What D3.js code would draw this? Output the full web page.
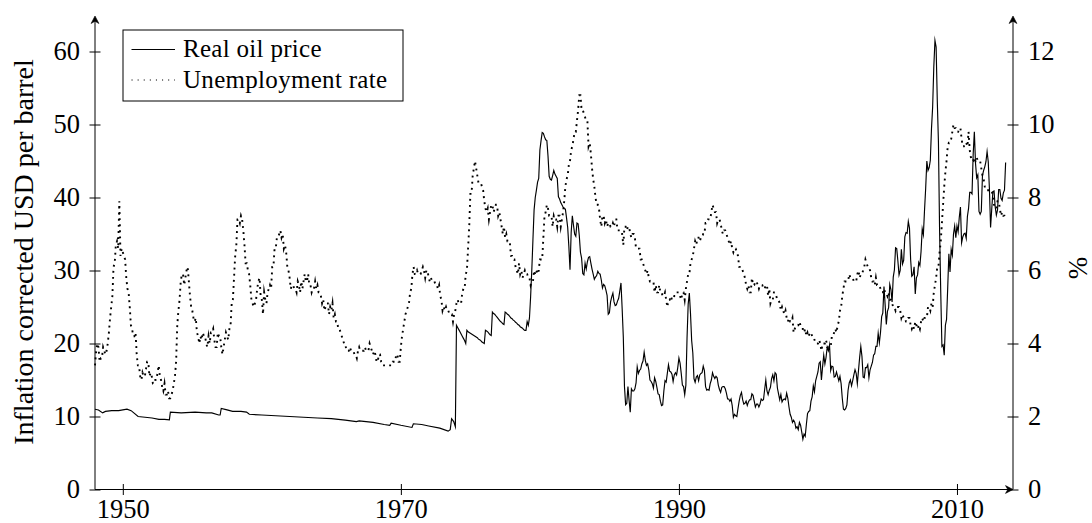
<!DOCTYPE html>
<html>
<head>
<meta charset="utf-8">
<script src="https://cdn.jsdelivr.net/npm/d3@7"></script>
<style>
  html, body { margin: 0; padding: 0; background: #fff; }
  svg { display: block; font-family: "Liberation Serif", "Times New Roman", serif; }
</style>
</head>
<body>
<svg id="chart" width="1092" height="523"></svg>
<script>
// ---- Data -----------------------------------------------------------------
const yearTicks = [1950, 1970, 1990, 2010];
const priceTicks = [0, 10, 20, 30, 40, 50, 60];
const rateTicks = [0, 2, 4, 6, 8, 10, 12];
const seriesNames = ["Real oil price", "Unemployment rate"];
const leftTitle = "Inflation corrected USD per barrel";
const rightTitle = "%";

// Real oil price before 1974 (posted-price era): [year, USD per barrel]
const oilEarly = [
  [1948.00, 11.0], [1948.25, 10.9], [1948.55, 10.5], [1948.75, 10.7], [1949.20, 10.8],
  [1949.70, 10.8], [1950.10, 10.95], [1950.30, 11.0], [1950.60, 10.8], [1951.10, 10.0],
  [1951.60, 9.9], [1952.10, 9.8], [1952.60, 9.6], [1953.00, 9.6], [1953.35, 9.55],
  [1953.42, 10.6], [1954.20, 10.5], [1955.20, 10.6], [1956.00, 10.5], [1956.40, 10.5],
  [1956.90, 10.2], [1957.00, 10.2], [1957.08, 11.1], [1957.50, 10.9], [1957.90, 10.7],
  [1958.50, 10.7], [1958.90, 10.6], [1959.10, 10.3], [1960.00, 10.2], [1961.00, 10.1],
  [1962.00, 10.0], [1963.00, 9.9], [1964.00, 9.8], [1965.00, 9.7], [1966.00, 9.5],
  [1966.80, 9.3], [1967.00, 9.4], [1968.00, 9.2], [1968.80, 8.9], [1969.20, 8.8],
  [1969.30, 9.1], [1970.00, 8.8], [1970.80, 8.5], [1970.90, 9.0], [1971.50, 8.9],
  [1972.00, 8.7], [1972.80, 8.4], [1973.40, 8.0], [1973.55, 8.2], [1973.65, 9.7],
  [1973.80, 9.3], [1973.92, 8.6]
];

// Real oil price, monthly from January 1974 (USD per barrel)
const oilMonthlyStart = 1974;
const oilMonthly = [
  22.5, 22.2, 21.9, 21.6, 21.3, 21.0, 20.7, 20.4, 20.0, 21.8, 21.6, 21.5,   // 1974
  21.4, 21.3, 21.2, 21.1, 21.0, 20.9, 20.8, 20.6, 20.5, 20.4, 20.2, 20.1,   // 1975
  20.0, 21.8, 21.7, 21.6, 21.4, 21.2, 21.1, 24.3, 24.1, 24.0, 23.8, 23.6,   // 1976
  23.4, 23.2, 23.0, 22.9, 22.7, 22.6, 24.3, 24.2, 24.0, 23.9, 23.7, 23.5,   // 1977
  23.4, 23.2, 23.1, 22.9, 22.8, 22.6, 22.5, 22.3, 22.2, 22.1, 21.9, 21.8,   // 1978
  21.8, 23.0, 22.5, 23.5, 26.4, 30.0, 34.2, 38.3, 40.0, 41.0, 42.1, 42.6,   // 1979
  46.5, 47.8, 48.9, 48.8, 48.3, 47.9, 47.8, 45.7, 42.9, 42.5, 42.4, 43.0,   // 1980
  43.7, 43.2, 42.9, 42.6, 40.1, 39.8, 39.3, 39.0, 38.7, 38.5, 38.4, 37.2,   // 1981
  35.9, 33.3, 30.1, 35.2, 37.5, 36.2, 35.0, 34.7, 36.5, 36.4, 34.8, 32.5,   // 1982
  31.7, 29.6, 29.4, 31.0, 30.2, 31.2, 31.8, 31.9, 31.0, 30.2, 29.5, 28.8,   // 1983
  29.1, 29.3, 29.9, 29.6, 29.5, 28.7, 27.6, 28.1, 27.9, 27.3, 26.6, 24.0,   // 1984
  24.2, 25.7, 26.4, 26.9, 25.7, 25.2, 25.3, 25.8, 26.2, 27.2, 28.3, 24.8,   // 1985
  20.9, 14.1, 11.6, 11.8, 14.1, 12.2, 10.6, 13.8, 13.5, 13.5, 13.8, 14.6,   // 1986
  16.8, 15.9, 16.3, 16.5, 17.2, 17.6, 18.8, 17.7, 17.0, 17.2, 16.4, 15.0,   // 1987
  14.8, 14.5, 13.9, 15.3, 14.8, 14.0, 13.1, 13.0, 12.1, 11.5, 11.6, 13.5,   // 1988
  14.9, 14.7, 15.9, 17.1, 16.2, 16.1, 15.8, 14.8, 15.7, 16.0, 15.7, 16.7,   // 1989
  18.0, 17.3, 15.9, 14.3, 14.1, 13.0, 14.3, 20.7, 25.4, 26.9, 24.1, 20.4,   // 1990
  18.7, 15.2, 14.7, 15.4, 15.6, 14.9, 15.7, 15.9, 16.0, 16.9, 16.3, 14.1,   // 1991
  13.6, 13.7, 13.6, 14.5, 15.0, 16.0, 15.5, 15.2, 15.5, 15.3, 14.3, 13.7,   // 1992
  13.3, 14.0, 14.1, 14.1, 13.8, 13.2, 12.4, 12.4, 12.1, 12.4, 11.5, 9.9,    // 1993
  10.3, 10.1, 10.0, 11.1, 12.1, 12.9, 13.3, 12.3, 11.7, 11.8, 12.1, 11.5,   // 1994
  12.0, 12.3, 12.3, 13.1, 12.9, 12.1, 11.3, 11.7, 11.7, 11.3, 11.7, 12.4,   // 1995
  12.2, 12.3, 13.7, 15.0, 13.5, 13.0, 13.6, 14.0, 15.2, 15.7, 14.9, 16.0,   // 1996
  15.8, 13.9, 13.1, 12.3, 13.0, 12.0, 12.3, 12.4, 12.3, 13.2, 12.5, 11.3,   // 1997
  10.3, 9.9, 9.2, 9.5, 9.2, 8.4, 8.6, 8.2, 9.2, 8.8, 7.9, 6.9,              // 1998
  7.6, 7.3, 8.9, 10.4, 10.7, 10.8, 12.1, 12.7, 14.2, 13.4, 14.9, 15.5,      // 1999
  16.1, 17.3, 17.5, 15.0, 16.8, 18.4, 17.2, 18.1, 19.5, 19.0, 19.8, 16.3,   // 2000
  16.9, 16.8, 15.4, 15.5, 16.1, 15.5, 14.9, 15.5, 14.5, 12.5, 11.0, 10.9,   // 2001
  11.1, 11.6, 13.6, 14.6, 15.0, 14.2, 14.9, 15.7, 16.4, 15.9, 14.5, 16.3,   // 2002
  18.1, 19.6, 18.2, 15.4, 15.3, 16.7, 16.7, 17.1, 15.3, 16.4, 16.9, 17.4,   // 2003
  18.4, 18.6, 19.6, 19.6, 21.4, 20.1, 21.5, 23.7, 24.2, 27.8, 25.3, 22.6,   // 2004
  24.4, 24.9, 28.1, 27.4, 25.7, 29.1, 30.1, 33.1, 33.0, 31.3, 29.4, 30.0,   // 2005
  32.9, 30.9, 31.4, 34.6, 35.2, 35.1, 36.7, 35.8, 31.5, 29.2, 29.4, 30.5,   // 2006
  26.8, 29.0, 29.4, 31.1, 30.7, 32.6, 35.7, 34.9, 38.3, 41.3, 45.0, 43.7,   // 2007
  44.1, 45.1, 49.4, 52.4, 57.9, 61.5, 60.6, 53.3, 47.6, 35.4, 27.0, 19.6,   // 2008
  19.8, 18.4, 22.5, 23.3, 27.6, 32.3, 29.8, 32.9, 32.1, 35.0, 36.1, 34.5,   // 2009
  36.1, 35.3, 37.3, 38.7, 33.8, 34.6, 35.0, 35.1, 34.4, 37.4, 38.5, 40.7,   // 2010
  40.7, 40.5, 46.0, 49.0, 44.7, 42.7, 43.1, 38.1, 37.7, 38.1, 43.0, 43.7,   // 2011
  44.2, 44.9, 46.3, 44.9, 41.2, 35.9, 38.4, 40.8, 40.9, 38.7, 37.6, 38.3,   // 2012
  41.1, 41.1, 39.9, 39.6, 40.6, 41.0, 44.8                                  // 2013
];

// Unemployment rate (%), monthly from January 1948
const unempStart = 1948;
const unemployment = [
  3.4, 3.8, 4.0, 3.9, 3.5, 3.6, 3.6, 3.9, 3.8, 3.7, 3.8, 4.0,   // 1948
  4.3, 4.7, 5.0, 5.3, 6.1, 6.2, 6.7, 6.8, 6.6, 7.9, 6.4, 6.6,   // 1949
  6.5, 6.4, 6.3, 5.8, 5.5, 5.4, 5.0, 4.5, 4.4, 4.2, 4.2, 4.3,   // 1950
  3.7, 3.4, 3.4, 3.1, 3.0, 3.2, 3.1, 3.1, 3.3, 3.5, 3.5, 3.1,   // 1951
  3.2, 3.1, 2.9, 2.9, 3.0, 3.0, 3.2, 3.4, 3.1, 3.0, 2.8, 2.7,   // 1952
  2.9, 2.6, 2.6, 2.7, 2.5, 2.5, 2.6, 2.7, 2.9, 3.1, 3.5, 4.5,   // 1953
  4.9, 5.2, 5.7, 5.9, 5.9, 5.6, 5.8, 6.0, 6.1, 5.7, 5.3, 5.0,   // 1954
  4.9, 4.7, 4.6, 4.7, 4.3, 4.2, 4.0, 4.2, 4.1, 4.3, 4.2, 4.2,   // 1955
  4.0, 3.9, 4.2, 4.0, 4.3, 4.3, 4.4, 4.1, 3.9, 3.9, 4.3, 4.2,   // 1956
  4.2, 3.9, 3.7, 3.9, 4.1, 4.3, 4.2, 4.1, 4.4, 4.5, 5.1, 5.2,   // 1957
  5.8, 6.4, 6.7, 7.4, 7.4, 7.3, 7.5, 7.4, 7.1, 6.7, 6.2, 6.2,   // 1958
  6.0, 5.9, 5.6, 5.2, 5.1, 5.0, 5.1, 5.2, 5.5, 5.7, 5.8, 5.3,   // 1959
  5.2, 4.8, 5.4, 5.2, 5.1, 5.4, 5.5, 5.6, 5.5, 6.1, 6.1, 6.6,   // 1960
  6.6, 6.9, 6.9, 7.0, 7.1, 6.9, 7.0, 6.6, 6.7, 6.5, 6.1, 6.0,   // 1961
  5.8, 5.5, 5.6, 5.6, 5.5, 5.5, 5.4, 5.7, 5.6, 5.4, 5.7, 5.5,   // 1962
  5.7, 5.9, 5.7, 5.7, 5.9, 5.6, 5.6, 5.4, 5.5, 5.5, 5.7, 5.5,   // 1963
  5.6, 5.4, 5.4, 5.3, 5.1, 5.2, 4.9, 5.0, 5.1, 5.1, 4.8, 5.0,   // 1964
  4.9, 5.1, 4.7, 4.8, 4.6, 4.6, 4.4, 4.4, 4.3, 4.2, 4.1, 4.0,   // 1965
  4.0, 3.8, 3.8, 3.8, 3.9, 3.8, 3.8, 3.8, 3.7, 3.7, 3.6, 3.8,   // 1966
  3.9, 3.8, 3.8, 3.8, 3.8, 3.9, 3.8, 3.8, 3.8, 4.0, 3.9, 3.8,   // 1967
  3.7, 3.8, 3.7, 3.5, 3.5, 3.7, 3.7, 3.5, 3.4, 3.4, 3.4, 3.4,   // 1968
  3.4, 3.4, 3.4, 3.4, 3.4, 3.5, 3.5, 3.5, 3.7, 3.7, 3.5, 3.5,   // 1969
  3.9, 4.2, 4.4, 4.6, 4.8, 4.9, 5.0, 5.1, 5.4, 5.5, 5.9, 6.1,   // 1970
  5.9, 5.9, 6.0, 5.9, 5.9, 5.9, 6.0, 6.1, 6.0, 5.8, 6.0, 6.0,   // 1971
  5.8, 5.7, 5.8, 5.7, 5.7, 5.7, 5.6, 5.6, 5.5, 5.6, 5.3, 5.2,   // 1972
  4.9, 5.0, 4.9, 5.0, 4.9, 4.9, 4.8, 4.8, 4.8, 4.6, 4.8, 4.9,   // 1973
  5.1, 5.2, 5.1, 5.1, 5.1, 5.4, 5.5, 5.5, 5.9, 6.0, 6.6, 7.2,   // 1974
  8.1, 8.1, 8.6, 8.8, 9.0, 8.8, 8.6, 8.4, 8.4, 8.4, 8.3, 8.2,   // 1975
  7.9, 7.7, 7.6, 7.7, 7.4, 7.6, 7.8, 7.8, 7.6, 7.7, 7.8, 7.8,   // 1976
  7.5, 7.6, 7.4, 7.2, 7.0, 7.2, 6.9, 7.0, 6.8, 6.8, 6.8, 6.4,   // 1977
  6.4, 6.3, 6.3, 6.1, 6.0, 5.9, 6.2, 5.9, 6.0, 5.8, 5.9, 6.0,   // 1978
  5.9, 5.9, 5.8, 5.8, 5.6, 5.7, 5.7, 6.0, 5.9, 6.0, 5.9, 6.0,   // 1979
  6.3, 6.3, 6.3, 6.9, 7.5, 7.6, 7.8, 7.7, 7.5, 7.5, 7.5, 7.2,   // 1980
  7.5, 7.4, 7.4, 7.2, 7.5, 7.5, 7.2, 7.4, 7.6, 7.9, 8.3, 8.5,   // 1981
  8.6, 8.9, 9.0, 9.3, 9.4, 9.6, 9.8, 9.8, 10.1, 10.4, 10.8, 10.8, // 1982
  10.4, 10.4, 10.3, 10.2, 10.1, 10.1, 9.4, 9.5, 9.2, 8.8, 8.5, 8.3, // 1983
  8.0, 7.8, 7.8, 7.7, 7.4, 7.2, 7.5, 7.5, 7.3, 7.4, 7.2, 7.3,   // 1984
  7.3, 7.2, 7.2, 7.3, 7.2, 7.4, 7.4, 7.1, 7.1, 7.1, 7.0, 7.0,   // 1985
  6.7, 7.2, 7.2, 7.1, 7.2, 7.2, 7.0, 6.9, 7.0, 7.0, 6.9, 6.6,   // 1986
  6.6, 6.6, 6.6, 6.3, 6.3, 6.2, 6.1, 6.0, 5.9, 6.0, 5.8, 5.7,   // 1987
  5.7, 5.7, 5.7, 5.4, 5.6, 5.4, 5.4, 5.6, 5.4, 5.4, 5.3, 5.3,   // 1988
  5.4, 5.2, 5.0, 5.2, 5.2, 5.3, 5.2, 5.2, 5.3, 5.3, 5.4, 5.4,   // 1989
  5.4, 5.3, 5.2, 5.4, 5.4, 5.2, 5.5, 5.7, 5.9, 5.9, 6.2, 6.3,   // 1990
  6.4, 6.6, 6.8, 6.7, 6.9, 6.9, 6.8, 6.9, 6.9, 7.0, 7.0, 7.3,   // 1991
  7.3, 7.4, 7.4, 7.4, 7.6, 7.8, 7.7, 7.6, 7.6, 7.3, 7.4, 7.4,   // 1992
  7.3, 7.1, 7.0, 7.1, 7.1, 7.0, 6.9, 6.8, 6.7, 6.8, 6.6, 6.5,   // 1993
  6.6, 6.6, 6.5, 6.4, 6.1, 6.1, 6.1, 6.0, 5.9, 5.8, 5.6, 5.5,   // 1994
  5.6, 5.4, 5.4, 5.8, 5.6, 5.6, 5.7, 5.7, 5.6, 5.5, 5.6, 5.6,   // 1995
  5.6, 5.5, 5.5, 5.6, 5.6, 5.3, 5.5, 5.1, 5.2, 5.2, 5.4, 5.4,   // 1996
  5.3, 5.2, 5.2, 5.1, 4.9, 5.0, 4.9, 4.8, 4.9, 4.7, 4.6, 4.7,   // 1997
  4.6, 4.6, 4.7, 4.3, 4.4, 4.5, 4.5, 4.5, 4.6, 4.5, 4.4, 4.4,   // 1998
  4.3, 4.4, 4.2, 4.3, 4.2, 4.3, 4.3, 4.2, 4.2, 4.1, 4.1, 4.0,   // 1999
  4.0, 4.1, 4.0, 3.8, 4.0, 4.0, 4.0, 4.1, 3.9, 3.9, 3.9, 3.9,   // 2000
  4.2, 4.2, 4.3, 4.4, 4.3, 4.5, 4.6, 4.9, 5.0, 5.3, 5.5, 5.7,   // 2001
  5.7, 5.7, 5.7, 5.9, 5.8, 5.8, 5.8, 5.7, 5.7, 5.7, 5.9, 6.0,   // 2002
  5.8, 5.9, 5.9, 6.0, 6.1, 6.3, 6.2, 6.1, 6.1, 6.0, 5.8, 5.7,   // 2003
  5.7, 5.6, 5.8, 5.6, 5.6, 5.6, 5.5, 5.4, 5.4, 5.5, 5.4, 5.4,   // 2004
  5.3, 5.4, 5.2, 5.2, 5.1, 5.0, 5.0, 4.9, 5.0, 5.0, 5.0, 4.9,   // 2005
  4.7, 4.8, 4.7, 4.7, 4.6, 4.6, 4.7, 4.7, 4.5, 4.4, 4.5, 4.4,   // 2006
  4.6, 4.5, 4.4, 4.5, 4.4, 4.6, 4.7, 4.6, 4.7, 4.7, 4.7, 5.0,   // 2007
  5.0, 4.9, 5.1, 5.0, 5.4, 5.6, 5.8, 6.1, 6.1, 6.5, 6.8, 7.3,   // 2008
  7.8, 8.3, 8.7, 9.0, 9.4, 9.5, 9.5, 9.6, 9.8, 10.0, 9.9, 9.9,  // 2009
  9.8, 9.8, 9.9, 9.9, 9.6, 9.4, 9.4, 9.5, 9.5, 9.4, 9.8, 9.3,   // 2010
  9.1, 9.0, 9.0, 9.1, 9.0, 9.1, 9.0, 9.0, 9.0, 8.8, 8.6, 8.5,   // 2011
  8.3, 8.3, 8.2, 8.2, 8.2, 8.2, 8.2, 8.0, 7.8, 7.8, 7.7, 7.9,   // 2012
  7.9, 7.7, 7.5, 7.6, 7.5, 7.5, 7.4                             // 2013
];

// ---- Series (date, value) -------------------------------------------------
const oilSeries = oilEarly.concat(
  oilMonthly.map((v, i) => [oilMonthlyStart + i / 12, v])
);
const unempSeries = unemployment.map((v, i) => [unempStart + i / 12, v]);

// ---- Layout ---------------------------------------------------------------
const W = 1092, H = 523;
const frame = { left: 95, right: 1013, bottom: 489.5, top: 16 };
const tick = 5.5;               // half length of the centred tick marks
const tickFont = 26.5;

const svg = d3.select("#chart");

const x = d3.scaleLinear().domain([1948, 2014.03]).range([frame.left, frame.right]);
const yPrice = d3.scaleLinear().domain([0, 60]).range([frame.bottom, 51.5]);
const yRate = d3.scaleLinear().domain([0, 12]).range([frame.bottom, 51.5]);

// ---- Data lines -----------------------------------------------------------
const priceLine = d3.line().x(d => x(d[0])).y(d => yPrice(d[1]));
const rateLine = d3.line().x(d => x(d[0])).y(d => yRate(d[1]));

const dotted = { width: 1.9, dash: "1.9 4.2" };

svg.append("path")
  .datum(unempSeries)
  .attr("d", rateLine)
  .attr("fill", "none")
  .attr("stroke", "#000")
  .attr("stroke-width", dotted.width)
  .attr("stroke-dasharray", dotted.dash)
  .attr("stroke-linejoin", "miter")
  .attr("stroke-miterlimit", 10);

svg.append("path")
  .datum(oilSeries)
  .attr("d", priceLine)
  .attr("fill", "none")
  .attr("stroke", "#000")
  .attr("stroke-width", 1.15)
  .attr("stroke-linejoin", "miter")
  .attr("stroke-miterlimit", 10);

// ---- Axes -----------------------------------------------------------------
function styleAxis(g) {
  g.select(".domain").remove();
  g.attr("font-family", null).attr("font-size", tickFont);
  g.selectAll(".tick text").attr("fill", "#000");
  g.selectAll(".tick line").attr("stroke", "#000").attr("stroke-width", 1);
}

svg.append("g")
  .attr("transform", `translate(${frame.left},0)`)
  .call(d3.axisLeft(yPrice).tickValues(priceTicks).tickSize(tick).tickPadding(9.5))
  .call(styleAxis)
  .call(g => g.selectAll(".tick line").attr("x1", tick));

svg.append("g")
  .attr("transform", `translate(${frame.right},0)`)
  .call(d3.axisRight(yRate).tickValues(rateTicks).tickSize(tick).tickPadding(9.5))
  .call(styleAxis)
  .call(g => g.selectAll(".tick line").attr("x1", -tick));

svg.append("g")
  .attr("transform", `translate(0,${frame.bottom})`)
  .call(d3.axisBottom(x).tickValues(yearTicks).tickFormat(d3.format("d")).tickSize(tick).tickPadding(4.5))
  .call(styleAxis)
  .call(g => g.selectAll(".tick line").attr("y1", -tick));

// axis lines with arrow heads
const axisLines = svg.append("g").attr("stroke", "#000").attr("stroke-width", 1);
axisLines.append("line")
  .attr("x1", frame.left).attr("x2", frame.left)
  .attr("y1", frame.bottom).attr("y2", frame.top + 3);
axisLines.append("line")
  .attr("x1", frame.right).attr("x2", frame.right)
  .attr("y1", frame.bottom).attr("y2", frame.top + 3);
axisLines.append("line")
  .attr("x1", frame.left).attr("x2", frame.right - 3)
  .attr("y1", frame.bottom).attr("y2", frame.bottom);

const arrowHead = "M0,0 L-7.5,-3.9 L-5.2,0 L-7.5,3.9 Z";
[
  { px: frame.left, py: frame.top, rot: -90 },
  { px: frame.right, py: frame.top, rot: -90 },
  { px: frame.right, py: frame.bottom, rot: 0 }
].forEach(a => {
  svg.append("path")
    .attr("d", arrowHead)
    .attr("transform", `translate(${a.px},${a.py}) rotate(${a.rot})`)
    .attr("fill", "#000")
    .attr("stroke", "#000")
    .attr("stroke-width", 0.6)
    .attr("stroke-linejoin", "round");
});

// ---- Axis titles ----------------------------------------------------------
svg.append("text")
  .attr("transform", "translate(33,252) rotate(-90)")
  .attr("text-anchor", "middle")
  .attr("font-size", 28)
  .text(leftTitle);

svg.append("text")
  .attr("transform", "translate(1087,268) rotate(-90)")
  .attr("text-anchor", "middle")
  .attr("font-size", 27)
  .text(rightTitle);

// ---- Legend ---------------------------------------------------------------
const legend = svg.append("g");
legend.append("rect")
  .attr("x", 123).attr("y", 30).attr("width", 280).attr("height", 71)
  .attr("fill", "#fff").attr("stroke", "#000").attr("stroke-width", 1);

const legendRows = [
  { name: seriesNames[0], y: 49.5, dash: null, width: 1.15 },
  { name: seriesNames[1], y: 80, dash: "1.1 5", width: 1.1 }
];
legendRows.forEach(r => {
  legend.append("line")
    .attr("x1", 131.5).attr("x2", 175)
    .attr("y1", r.y).attr("y2", r.y)
    .attr("stroke", "#000")
    .attr("stroke-width", r.width)
    .attr("stroke-dasharray", r.dash);
  legend.append("text")
    .attr("x", 183).attr("y", r.y)
    .attr("dy", "0.3em")
    .attr("font-size", 25)
    .attr("letter-spacing", 0.3)
    .text(r.name);
});
</script>
</body>
</html>
